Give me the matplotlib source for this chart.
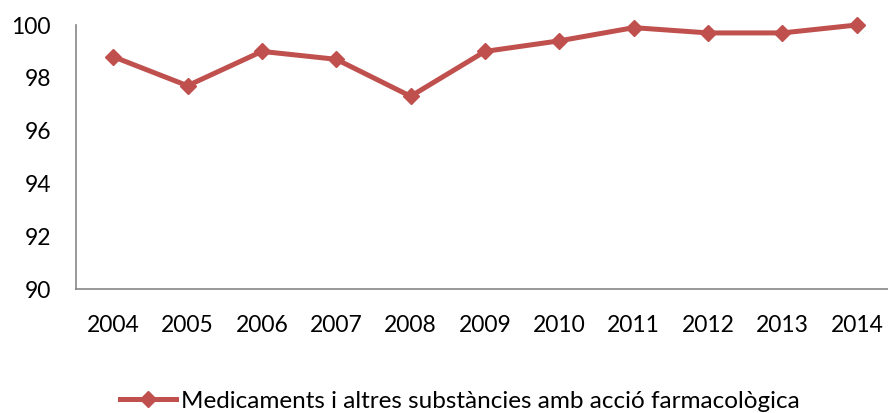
import matplotlib
matplotlib.use("Agg")
import matplotlib.pyplot as plt

plt.rcParams['font.family'] = ['Lato', 'DejaVu Sans']

years = ["2004", "2005", "2006", "2007", "2008", "2009", "2010", "2011", "2012", "2013", "2014"]
values = [98.8, 97.7, 99.0, 98.7, 97.3, 99.0, 99.4, 99.9, 99.7, 99.7, 100.0]
series_name = "Medicaments i altres substàncies amb acció farmacològica"
yticks = [90, 92, 94, 96, 98, 100]

color = "#C0504D"
axis_grey = "#868686"

fig = plt.figure(figsize=(8.88, 4.13), dpi=100)
ax = fig.add_axes([76 / 888, 124 / 413, 818 / 888, 264 / 413])

x = list(range(len(years)))
line, = ax.plot(x, values, color=color, linewidth=3.6, marker="D",
                markersize=8.5, markeredgecolor=color, markerfacecolor=color,
                label=series_name, clip_on=False)

ax.set_xlim(-0.5, len(years) - 0.5)
ax.set_ylim(90, 100)
ax.set_yticks(yticks)
ax.set_xticks(x)
ax.set_xticklabels(years)

for side in ["top", "right"]:
    ax.spines[side].set_visible(False)
for side in ["left", "bottom"]:
    ax.spines[side].set_color(axis_grey)
    ax.spines[side].set_linewidth(1.2)

ax.tick_params(axis="both", length=0, labelsize=16.5, colors="black")
ax.tick_params(axis="y", pad=18)
ax.tick_params(axis="x", pad=19)

fig.legend(handles=[line], loc="center", bbox_to_anchor=(460 / 888, 1 - 401 / 413),
           frameon=False, fontsize=17.5, handlelength=2.3, handletextpad=0.2,
           borderaxespad=0)

fig.savefig("out.png", dpi=100)
